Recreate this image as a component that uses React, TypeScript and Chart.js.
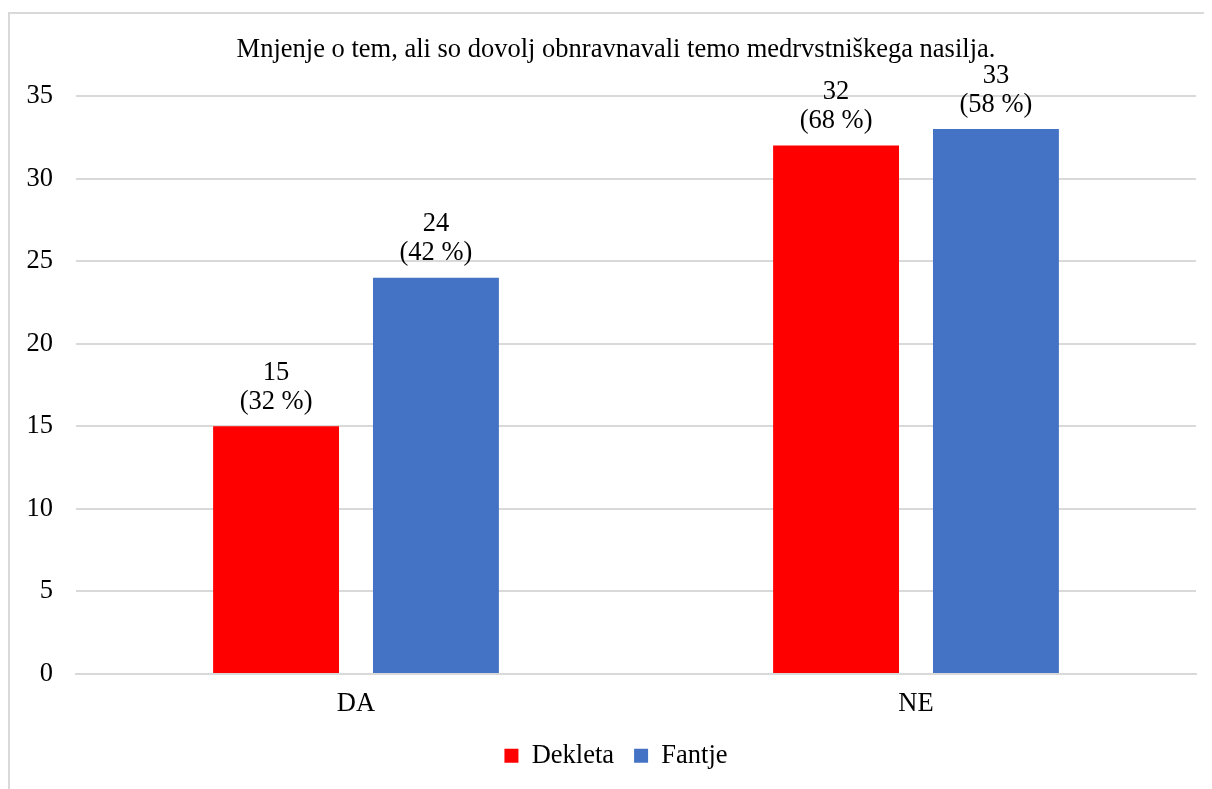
import React, { useEffect, useRef } from "react";
import { Chart, registerables } from "chart.js";

Chart.register(...registerables);

const TITLE = "Mnjenje o tem, ali so dovolj obnravnavali temo medrvstniškega nasilja.";
const categories = ["DA", "NE"];
const seriesNames = ["Dekleta", "Fantje"];
const dekletaValues = [15, 32];
const fantjeValues = [24, 33];
const dekletaPercents = [32, 68];
const fantjePercents = [42, 58];
const yTicks = [0, 5, 10, 15, 20, 25, 30, 35];

const FONT = "'Liberation Serif', 'Times New Roman', serif";
const FS = 26.5;
const percents = [dekletaPercents, fantjePercents];

const labelPlugin = {
  id: "twoLineLabels",
  afterDatasetsDraw(chart: any) {
    const ctx = chart.ctx;
    ctx.save();
    ctx.font = `${FS}px ${FONT}`;
    ctx.fillStyle = "#000";
    ctx.textAlign = "center";
    ctx.textBaseline = "alphabetic";
    chart.data.datasets.forEach((ds: any, di: number) => {
      const meta = chart.getDatasetMeta(di);
      meta.data.forEach((bar: any, i: number) => {
        const x = bar.x;
        const top = bar.y;
        ctx.fillText(String(ds.data[i]), x, top - 46.5);
        ctx.fillText(`(${percents[di][i]} %)`, x, top - 17.5);
      });
    });
    ctx.restore();
  },
};

export default function App() {
  const ref = useRef<HTMLCanvasElement | null>(null);
  useEffect(() => {
    if (!ref.current) return;
    const chart = new Chart(ref.current, {
      type: "bar",
      data: {
        labels: categories,
        datasets: [
          {
            label: seriesNames[0],
            data: dekletaValues,
            backgroundColor: "#FF0000",
            categoryPercentage: 0.571,
            barPercentage: 0.7875,
          },
          {
            label: seriesNames[1],
            data: fantjeValues,
            backgroundColor: "#4472C4",
            categoryPercentage: 0.571,
            barPercentage: 0.7875,
          },
        ],
      },
      options: {
        animation: false,
        responsive: false,
        maintainAspectRatio: false,
        layout: { padding: { top: 0, right: 8, bottom: 10, left: 26 } },
        plugins: {
          title: {
            display: true,
            text: TITLE,
            color: "#000",
            font: { family: FONT, size: FS, weight: "normal" },
            padding: { top: 20.1, bottom: 30.1 },
          },
          legend: {
            position: "bottom",
            labels: {
              color: "#000",
              font: { family: FONT, size: FS },
              boxWidth: 14,
              boxHeight: 14,
              padding: 20,
            },
          },
          tooltip: { enabled: false },
        },
        scales: {
          x: {
            afterFit(scale: any) {
              scale.height = 48.5;
            },
            grid: { display: false, drawTicks: false },
            border: { display: true, color: "#d9d9d9", width: 2 },
            ticks: { color: "#000", font: { family: FONT, size: FS }, padding: 14 },
          },
          y: {
            min: 0,
            max: 35,
            afterFit(scale: any) {
              scale.width = 40;
              scale._computeLabelArea = () => null;
            },
            afterBuildTicks(scale: any) {
              scale.ticks = yTicks.map((v) => ({ value: v }));
            },
            grid: { color: "#d9d9d9", lineWidth: 2, drawTicks: false },
            border: { display: false },
            ticks: { color: "#000", font: { family: FONT, size: FS }, padding: 23 },
          },
        },
      },
      plugins: [labelPlugin],
    } as any);
    return () => chart.destroy();
  }, []);

  return (
    <div
      style={{
        marginTop: 4,
        borderTop: "2px solid #d9d9d9",
        borderLeft: "2px solid #d9d9d9",
        width: 1194,
        height: 775,
        background: "#fff",
      }}
    >
      <canvas ref={ref} width={1194} height={775} style={{ display: "block" }} />
    </div>
  );
}
